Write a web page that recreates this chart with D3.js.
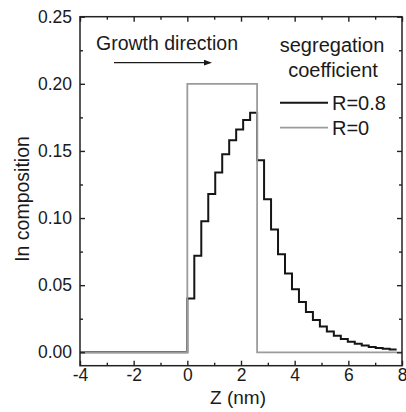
<!DOCTYPE html>
<html lang="en">
<head>
  <meta charset="UTF-8">
  <title>In composition profile</title>
  <script src="https://cdn.jsdelivr.net/npm/d3@7"></script>
  <style>
    body { margin: 0; background: #fff; }
    svg text { font-family: "Liberation Sans", Arial, sans-serif; fill: #1a1a1a; }
  </style>
</head>
<body>
  <div id="chart"></div>
  <script>
    // step profiles (z in nm, In fraction)
    const refZ = [-4, 0, 2.6, 8];
    const refC = [0, 0.2, 0, 0];

    const segZ = [-4, 0, 0.26, 0.52, 0.78, 1.04, 1.30, 1.56, 1.82, 2.08, 2.34,
                  2.60, 2.86, 3.12, 3.38, 3.64, 3.90, 4.16, 4.42, 4.68, 4.94,
                  5.20, 5.46, 5.72, 5.98, 6.24, 6.50, 6.76, 7.02, 7.28, 7.54, 7.80];
    const segC = [0, 0.040, 0.072, 0.0976, 0.118, 0.134, 0.1475, 0.158, 0.166, 0.173, 0.1785,
                  0.143, 0.114, 0.0915, 0.073, 0.0586, 0.047, 0.0375, 0.030, 0.024, 0.0192,
                  0.0154, 0.0123, 0.0098, 0.0079, 0.0063, 0.005, 0.004, 0.0032, 0.0026, 0.0021, 0.0021];

    const xTicks = [-4, -2, 0, 2, 4, 6, 8];
    const xMinor = [-3, -1, 1, 3, 5, 7];
    const yTicks = [0, 0.05, 0.10, 0.15, 0.20, 0.25];
    const yMinor = [0.025, 0.075, 0.125, 0.175, 0.225];

    const w = 406, h = 412;
    const pLeft = 80, pRight = 402, pTop = 16.7, pBottom = 365.7;

    const x = d3.scaleLinear().domain([-4, 8]).range([pLeft, pRight]);
    const y = d3.scaleLinear().domain([-0.01, 0.25]).range([pBottom, pTop]);

    const svg = d3.select("#chart").append("svg")
      .attr("width", w).attr("height", h);

    const line = d3.line()
      .x(d => x(d[0]))
      .y(d => y(d[1]))
      .curve(d3.curveStepAfter);

    const segData = segZ.map((z, i) => [z, segC[i]]);
    const refData = refZ.map((z, i) => [z, refC[i]]);

    svg.append("path")
      .attr("d", line(segData))
      .attr("fill", "none")
      .attr("stroke", "#151515")
      .attr("stroke-width", 2);

    svg.append("path")
      .attr("d", line(refData))
      .attr("fill", "none")
      .attr("stroke", "#9b9b9b")
      .attr("stroke-width", 1.8);

    // axes, ticks on all four sides pointing inward
    const tickLen = 5, minorLen = 3;
    const axisB = d3.axisBottom(x).tickValues(xTicks).tickSizeInner(-tickLen).tickSizeOuter(0)
      .tickPadding(3).tickFormat(d => String(d));   // plain hyphen for negatives
    const axisBm = d3.axisBottom(x).tickValues(xMinor).tickSizeInner(-minorLen).tickSizeOuter(0).tickFormat("");
    const axisT = d3.axisTop(x).tickValues(xTicks).tickSizeInner(-tickLen).tickSizeOuter(0).tickFormat("");
    const axisTm = d3.axisTop(x).tickValues(xMinor).tickSizeInner(-minorLen).tickSizeOuter(0).tickFormat("");
    const axisL = d3.axisLeft(y).tickValues(yTicks).tickSizeInner(-tickLen).tickSizeOuter(0)
      .tickPadding(8).tickFormat(d3.format(".2f"));
    const axisLm = d3.axisLeft(y).tickValues(yMinor).tickSizeInner(-minorLen).tickSizeOuter(0).tickFormat("");
    const axisR = d3.axisRight(y).tickValues(yTicks).tickSizeInner(-tickLen).tickSizeOuter(0).tickFormat("");
    const axisRm = d3.axisRight(y).tickValues(yMinor).tickSizeInner(-minorLen).tickSizeOuter(0).tickFormat("");

    const gB = svg.append("g").attr("transform", `translate(0,${pBottom})`);
    gB.call(axisB); gB.append("g").call(axisBm);
    const gT = svg.append("g").attr("transform", `translate(0,${pTop})`);
    gT.call(axisT); gT.append("g").call(axisTm);
    const gL = svg.append("g").attr("transform", `translate(${pLeft},0)`);
    gL.call(axisL); gL.append("g").call(axisLm);
    const gR = svg.append("g").attr("transform", `translate(${pRight},0)`);
    gR.call(axisR); gR.append("g").call(axisRm);

    svg.selectAll(".domain").remove();
    svg.selectAll(".tick line").attr("stroke", "#222").attr("stroke-width", 1.4);
    svg.selectAll(".tick text").attr("font-size", 17.5).attr("fill", "#1a1a1a")
      .attr("font-family", "'Liberation Sans', Arial, sans-serif");

    svg.append("rect")
      .attr("x", pLeft).attr("y", pTop)
      .attr("width", pRight - pLeft).attr("height", pBottom - pTop)
      .attr("fill", "none").attr("stroke", "#222").attr("stroke-width", 1.5);

    // axis titles
    svg.append("text")
      .attr("x", (pLeft + pRight) / 2 - 3).attr("y", 404)
      .attr("text-anchor", "middle").attr("font-size", 19)
      .text("Z (nm)");
    svg.append("text")
      .attr("transform", "translate(29,199) rotate(-90)")
      .attr("text-anchor", "middle").attr("font-size", 19.5)
      .text("In composition");

    // growth direction annotation
    svg.append("text")
      .attr("x", 96).attr("y", 50)
      .attr("font-size", 19.5)
      .text("Growth direction");
    svg.append("line")
      .attr("x1", 114).attr("y1", 62.7).attr("x2", 206).attr("y2", 62.7)
      .attr("stroke", "#1a1a1a").attr("stroke-width", 1.3);
    svg.append("path")
      .attr("d", "M212,62.7 L204,59.8 L204,65.6 Z")
      .attr("fill", "#1a1a1a");

    // legend
    svg.append("text")
      .attr("x", 332).attr("y", 52)
      .attr("text-anchor", "middle").attr("font-size", 20)
      .text("segregation");
    svg.append("text")
      .attr("x", 333).attr("y", 77)
      .attr("text-anchor", "middle").attr("font-size", 20)
      .text("coefficient");

    const legend = [
      { label: "R=0.8", color: "#151515", width: 2, y: 102.7 },
      { label: "R=0", color: "#9b9b9b", width: 1.8, y: 127.7 }
    ];
    legend.forEach(d => {
      svg.append("line")
        .attr("x1", 280).attr("x2", 328).attr("y1", d.y).attr("y2", d.y)
        .attr("stroke", d.color).attr("stroke-width", d.width);
      svg.append("text")
        .attr("x", 332).attr("y", d.y + 7)
        .attr("font-size", 20)
        .text(d.label);
    });
  </script>
</body>
</html>
